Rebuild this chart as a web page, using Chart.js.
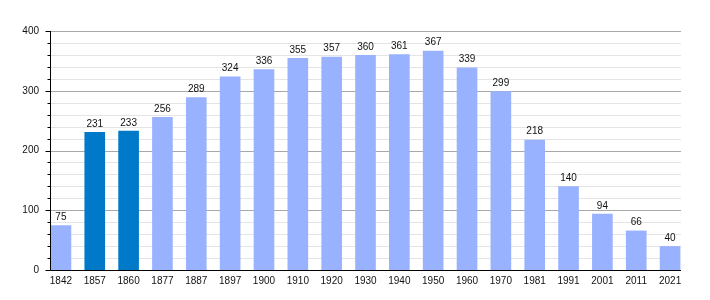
<!DOCTYPE html>
<html><head><meta charset="utf-8">
<script src="https://cdn.jsdelivr.net/npm/chart.js@4/dist/chart.umd.min.js"></script>
<style>html,body{margin:0;padding:0;background:#fff}#wrap{width:710px;height:300px}</style>
</head><body><div id="wrap"><canvas id="c"></canvas></div>
<script>
const years = ["1842","1857","1860","1877","1887","1897","1900","1910","1920","1930","1940","1950","1960","1970","1981","1991","2001","2011","2021"];
const population = [75,231,233,256,289,324,336,355,357,360,361,367,339,299,218,140,94,66,40];
const highlighted = ["1857","1860"];
const yTicks = [0,100,200,300,400];
const LIGHT = "#99b2ff", DARK = "#0079c9";

const deco = {
  id: "deco",
  beforeDatasetsDraw(chart) {
    const {ctx, scales:{x, y}} = chart;
    const x0 = Math.round(x.getPixelForValue(0) - 11) + 0.5;
    const x1 = Math.round(x.getPixelForValue(years.length-1) + 11);
    ctx.save();
    for (let v = 0; v <= 400; v += 20) {
      const py = Math.round(y.getPixelForValue(v)) + 0.5;
      const major = v % 100 === 0;
      ctx.strokeStyle = major ? "#a8a8a8" : "#e4e4e4";
      ctx.lineWidth = 1;
      ctx.beginPath(); ctx.moveTo(x0, py); ctx.lineTo(x1, py); ctx.stroke();
      ctx.strokeStyle = "#000";
      ctx.beginPath(); ctx.moveTo(x0 - (major ? 5 : 3), py); ctx.lineTo(x0, py); ctx.stroke();
    }
    ctx.restore();
  },
  afterDatasetsDraw(chart) {
    const {ctx, scales:{x, y}} = chart;
    const x0 = Math.round(x.getPixelForValue(0) - 11) + 0.5;
    const x1 = Math.round(x.getPixelForValue(years.length-1) + 11);
    const yb = Math.round(y.getPixelForValue(0)) + 0.5;
    const yt = Math.round(y.getPixelForValue(400));
    ctx.save();
    ctx.strokeStyle = "#000"; ctx.lineWidth = 1;
    ctx.beginPath(); ctx.moveTo(x0, yt); ctx.lineTo(x0, yb); ctx.lineTo(x1, yb); ctx.stroke();
    ctx.fillStyle = "#111";
    ctx.font = "10px 'Liberation Sans', Arial, sans-serif";
    ctx.textAlign = "center"; ctx.textBaseline = "bottom";
    chart.getDatasetMeta(0).data.forEach((bar, i) => {
      ctx.fillText(String(population[i]), bar.x, bar.y - 3);
    });
    ctx.restore();
  }
};

new Chart(document.getElementById("c"), {
  type: "bar",
  data: {
    labels: years,
    datasets: [{
      data: population,
      backgroundColor: years.map(yv => highlighted.includes(yv) ? DARK : LIGHT),
      borderWidth: 0,
      categoryPercentage: 1,
      barPercentage: 0.61
    }]
  },
  options: {
    responsive: true, maintainAspectRatio: false, animation: false,
    devicePixelRatio: 1,
    layout: { padding: { top: 31, right: 23, bottom: 0, left: 0 } },
    plugins: { legend: { display: false }, tooltip: { enabled: false } },
    scales: {
      x: {
        grid: { display: false, drawTicks: false },
        border: { display: false },
        ticks: { color: "#111", font: { family: "'Liberation Sans', Arial, sans-serif", size: 10 }, padding: 5, autoSkip: false, maxRotation: 0 },
        afterFit(s) { s.height = 30; }
      },
      y: {
        min: 0, max: 400,
        grid: { display: false, drawTicks: false },
        border: { display: false },
        ticks: { stepSize: 100, color: "#111", font: { family: "'Liberation Sans', Arial, sans-serif", size: 10 }, padding: 5 },
        afterBuildTicks(s) { s.ticks = yTicks.map(v => ({ value: v })); },
        afterFit(s) { s.width = 44; }
      }
    }
  },
  plugins: [deco]
});
</script></body></html>
